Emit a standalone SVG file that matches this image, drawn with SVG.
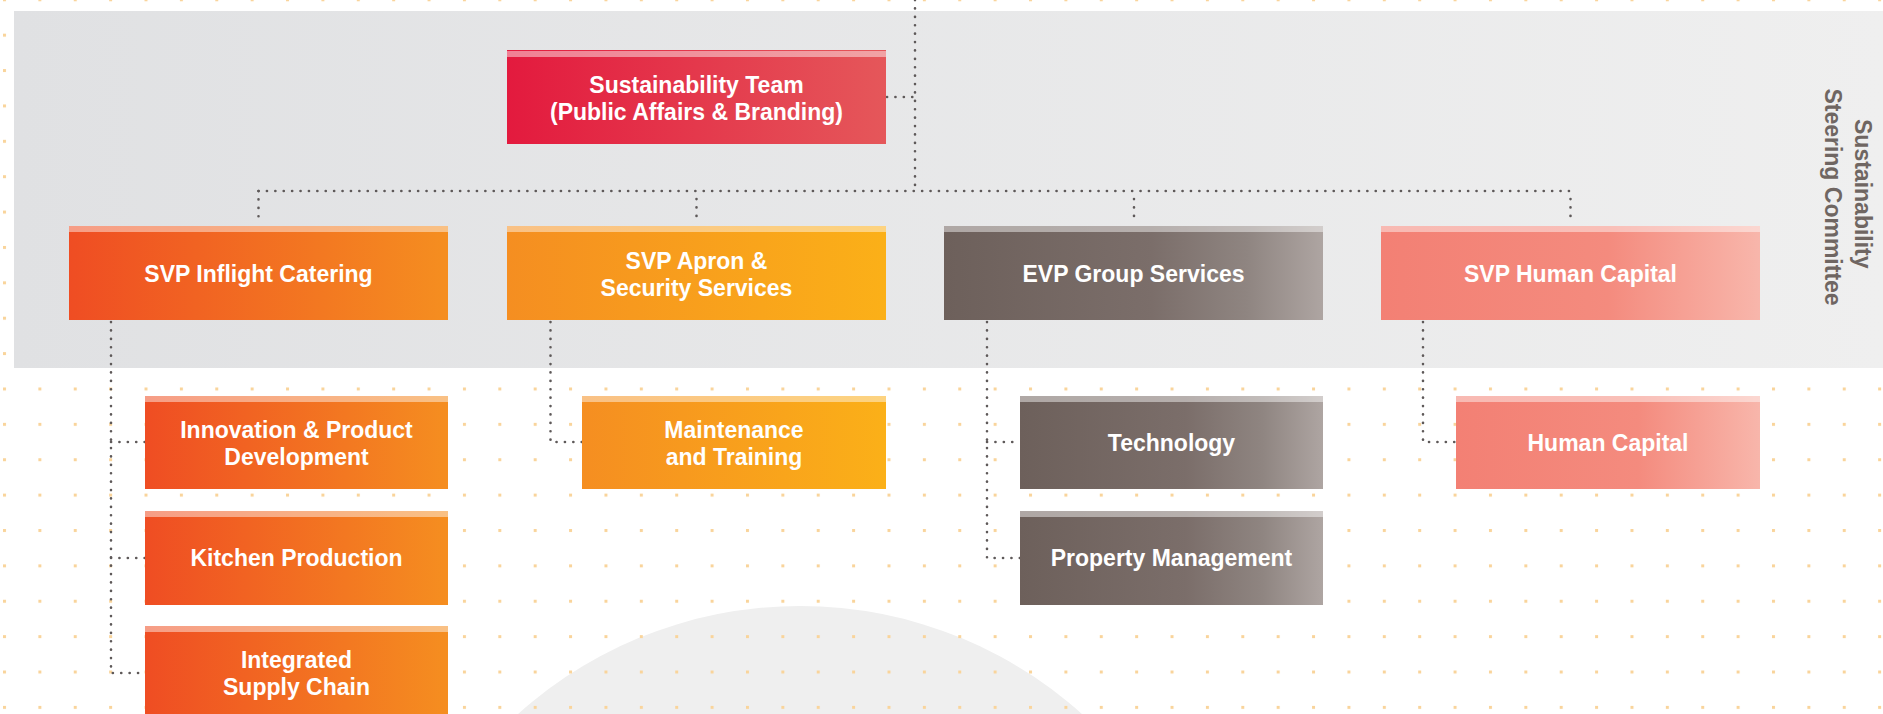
<svg xmlns="http://www.w3.org/2000/svg" width="1883" height="714" viewBox="0 0 1883 714">
  <defs>
    <pattern id="dots" patternUnits="userSpaceOnUse" x="3" y="-1.7" width="35.38" height="35.38">
      <rect x="0" y="0" width="3" height="3" fill="#F9D49B"/>
    </pattern>
    <linearGradient id="gPanel" x1="0" y1="0" x2="1" y2="0">
      <stop offset="0" stop-color="#E0E1E3"/>
      <stop offset="1" stop-color="#EFEFEF"/>
    </linearGradient>
    <linearGradient id="gRed" x1="0" y1="0" x2="1" y2="0">
      <stop offset="0" stop-color="#E31A3E"/>
      <stop offset="1" stop-color="#E5575A"/>
    </linearGradient>
    <linearGradient id="gOrange" x1="0" y1="0" x2="1" y2="0">
      <stop offset="0" stop-color="#EF4D23"/>
      <stop offset="1" stop-color="#F58E20"/>
    </linearGradient>
    <linearGradient id="gAmber" x1="0" y1="0" x2="1" y2="0">
      <stop offset="0" stop-color="#F58E21"/>
      <stop offset="1" stop-color="#FBB018"/>
    </linearGradient>
    <linearGradient id="gBrown" x1="0" y1="0" x2="1" y2="0">
      <stop offset="0" stop-color="#6D605B"/>
      <stop offset="0.55" stop-color="#7B6E6A"/>
      <stop offset="0.8" stop-color="#8F8581"/>
      <stop offset="1" stop-color="#AEA5A2"/>
    </linearGradient>
    <linearGradient id="gSalmon" x1="0" y1="0" x2="1" y2="0">
      <stop offset="0" stop-color="#F38074"/>
      <stop offset="0.6" stop-color="#F48B7E"/>
      <stop offset="1" stop-color="#F8B6AB"/>
    </linearGradient>
    <style>
      .lbl { font-family: "Liberation Sans", Arial, sans-serif; font-weight: bold; font-size: 23px; fill: #FFFFFF; text-anchor: middle; }
      .side { font-family: "Liberation Sans", Arial, sans-serif; font-weight: bold; font-size: 23px; fill: #6F6662; text-anchor: middle; }
      .strip { fill: #FFFFFF; fill-opacity: 0.45; }
      .conn { fill: none; stroke: #5E5959; stroke-width: 2.6; stroke-linecap: round; stroke-dasharray: 0.1 8.3; }
    </style>
  </defs>

  <!-- background -->
  <rect x="0" y="0" width="1883" height="714" fill="#FFFFFF"/>
  <circle cx="800" cy="1028" r="422" fill="#EFEFEF"/>
  <rect x="0" y="0" width="1883" height="714" fill="url(#dots)"/>
  <rect x="14" y="11" width="1869" height="357" fill="url(#gPanel)"/>

  <!-- side label -->
  <g id="steering-committee">
    <text class="side" transform="translate(1855,197) rotate(90)">
      <tspan x="0" y="0">Sustainability</tspan>
      <tspan x="0" y="30">Steering Committee</tspan>
    </text>
  </g>

  <!-- connectors -->
  <g id="connectors">
    <path class="conn" d="M915,0 V191"/>
    <path class="conn" d="M887,97 H915"/>
    <path class="conn" d="M258.5,191 H1571"/>
    <path class="conn" d="M258.5,191 V222"/>
    <path class="conn" d="M696.5,199 V222"/>
    <path class="conn" d="M1134,199 V222"/>
    <path class="conn" d="M1570.5,199 V222"/>
    <path class="conn" d="M111,322 V673 H145"/>
    <path class="conn" d="M111,442 H145"/>
    <path class="conn" d="M111,558 H145"/>
    <path class="conn" d="M550.5,322 V442 H582"/>
    <path class="conn" d="M987,322 V558 H1020"/>
    <path class="conn" d="M987,442 H1020"/>
    <path class="conn" d="M1423,322 V442 H1456"/>
  </g>

  <!-- top node -->
  <g id="sustainability-team">
    <rect x="507" y="50" width="379" height="94" fill="url(#gRed)"/>
    <rect class="strip" x="507" y="51" width="379" height="6"/>
    <text class="lbl"><tspan x="696.5" y="93">Sustainability Team</tspan><tspan x="696.5" y="120">(Public Affairs &amp; Branding)</tspan></text>
  </g>

  <!-- level 2 -->
  <g id="svp-inflight-catering">
    <rect x="69" y="226" width="379" height="94" fill="url(#gOrange)"/>
    <rect class="strip" x="69" y="226" width="379" height="6"/>
    <text class="lbl" x="258.5" y="281.5">SVP Inflight Catering</text>
  </g>
  <g id="svp-apron-security">
    <rect x="507" y="226" width="379" height="94" fill="url(#gAmber)"/>
    <rect class="strip" x="507" y="226" width="379" height="6"/>
    <text class="lbl"><tspan x="696.5" y="268.5">SVP Apron &amp;</tspan><tspan x="696.5" y="295.5">Security Services</tspan></text>
  </g>
  <g id="evp-group-services">
    <rect x="944" y="226" width="379" height="94" fill="url(#gBrown)"/>
    <rect class="strip" x="944" y="226" width="379" height="6"/>
    <text class="lbl" x="1133.5" y="281.5">EVP Group Services</text>
  </g>
  <g id="svp-human-capital">
    <rect x="1381" y="226" width="379" height="94" fill="url(#gSalmon)"/>
    <rect class="strip" x="1381" y="226" width="379" height="6"/>
    <text class="lbl" x="1570.5" y="281.5">SVP Human Capital</text>
  </g>

  <!-- level 3 -->
  <g id="innovation-product-development">
    <rect x="145" y="396" width="303" height="93" fill="url(#gOrange)"/>
    <rect class="strip" x="145" y="396" width="303" height="6"/>
    <text class="lbl"><tspan x="296.5" y="438">Innovation &amp; Product</tspan><tspan x="296.5" y="465">Development</tspan></text>
  </g>
  <g id="kitchen-production">
    <rect x="145" y="511" width="303" height="94" fill="url(#gOrange)"/>
    <rect class="strip" x="145" y="511" width="303" height="6"/>
    <text class="lbl" x="296.5" y="566">Kitchen Production</text>
  </g>
  <g id="integrated-supply-chain">
    <rect x="145" y="626" width="303" height="94" fill="url(#gOrange)"/>
    <rect class="strip" x="145" y="626" width="303" height="6"/>
    <text class="lbl"><tspan x="296.5" y="668">Integrated</tspan><tspan x="296.5" y="695">Supply Chain</tspan></text>
  </g>
  <g id="maintenance-training">
    <rect x="582" y="396" width="304" height="93" fill="url(#gAmber)"/>
    <rect class="strip" x="582" y="396" width="304" height="6"/>
    <text class="lbl"><tspan x="734" y="438">Maintenance</tspan><tspan x="734" y="465">and Training</tspan></text>
  </g>
  <g id="technology">
    <rect x="1020" y="396" width="303" height="93" fill="url(#gBrown)"/>
    <rect class="strip" x="1020" y="396" width="303" height="6"/>
    <text class="lbl" x="1171.5" y="451">Technology</text>
  </g>
  <g id="property-management">
    <rect x="1020" y="511" width="303" height="94" fill="url(#gBrown)"/>
    <rect class="strip" x="1020" y="511" width="303" height="6"/>
    <text class="lbl" x="1171.5" y="566">Property Management</text>
  </g>
  <g id="human-capital">
    <rect x="1456" y="396" width="304" height="93" fill="url(#gSalmon)"/>
    <rect class="strip" x="1456" y="396" width="304" height="6"/>
    <text class="lbl" x="1608" y="451">Human Capital</text>
  </g>
</svg>
